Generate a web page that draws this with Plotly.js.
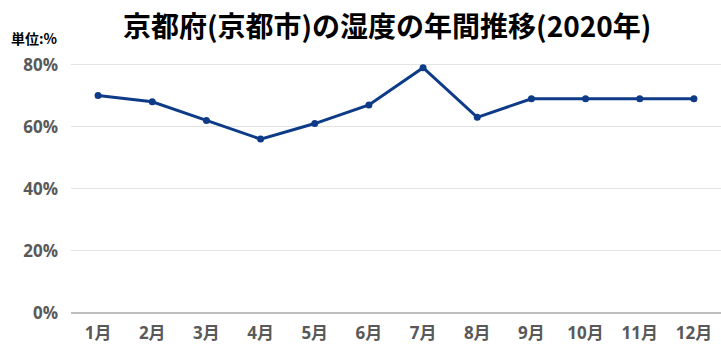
<!DOCTYPE html>
<html><head><meta charset="utf-8">
<script src="https://cdn.plot.ly/plotly-3.0.1.min.js"></script>
<style>html,body{margin:0;padding:0;background:#fff}#chart{width:721px;height:364px}</style>
</head><body><div id="chart"></div>
<script>
const months = ["1月","2月","3月","4月","5月","6月","7月","8月","9月","10月","11月","12月"];
const humidity = [70,68,62,56,61,67,79,63,69,69,69,69];
const yTicks = [0,20,40,60,80];
const yTickLabels = ["0%","20%","40%","60%","80%"];
const titleText = "京都府(京都市)の湿度の年間推移(2020年)";
const unitText = "単位:%";

const font = '"Noto Sans CJK JP", "Noto Sans", sans-serif';
const tickFontFamily = '"Open Sans", "Noto Sans CJK JP", sans-serif';
Plotly.newPlot('chart', [{
  type:'scatter', mode:'lines+markers', x: months, y: humidity,
  line:{color:'#0d3b87', width:3}, marker:{color:'#0d3b87', size:7},
  hoverinfo:'skip'
}], {
  width:721, height:364,
  margin:{l:71, r:0, t:63, b:51},
  paper_bgcolor:'#fff', plot_bgcolor:'#fff',
  showlegend:false,
  title:{text:'<b>'+titleText+'</b>', x:0.537, xanchor:'center', y:0.925, yanchor:'middle',
    font:{family:font, size:28, color:'#000'}},
  xaxis:{type:'category', range:[-0.5,11.5], showgrid:false, zeroline:false,
    showline:false, ticks:'', ticklabelstandoff:8, tickfont:{family:tickFontFamily, size:17, color:'#595959', weight:'bold'}},
  yaxis:{range:[0,80.5], tickvals:yTicks, ticktext:yTickLabels, showgrid:true,
    gridcolor:'#e3e3e3', gridwidth:1, zeroline:true, zerolinecolor:'#bfbfbf', zerolinewidth:1.5,
    ticks:'', ticklabelstandoff:12, tickfont:{family:tickFontFamily, size:17, color:'#595959', weight:'bold'}},
  annotations:[{text:'<b>'+unitText+'</b>', xref:'paper', yref:'paper', x:-0.095, y:1.1, xanchor:'left', yanchor:'middle', showarrow:false, font:{family:font, size:14, color:'#000'}}]
}, {staticPlot:true, displayModeBar:false});
</script></body></html>
